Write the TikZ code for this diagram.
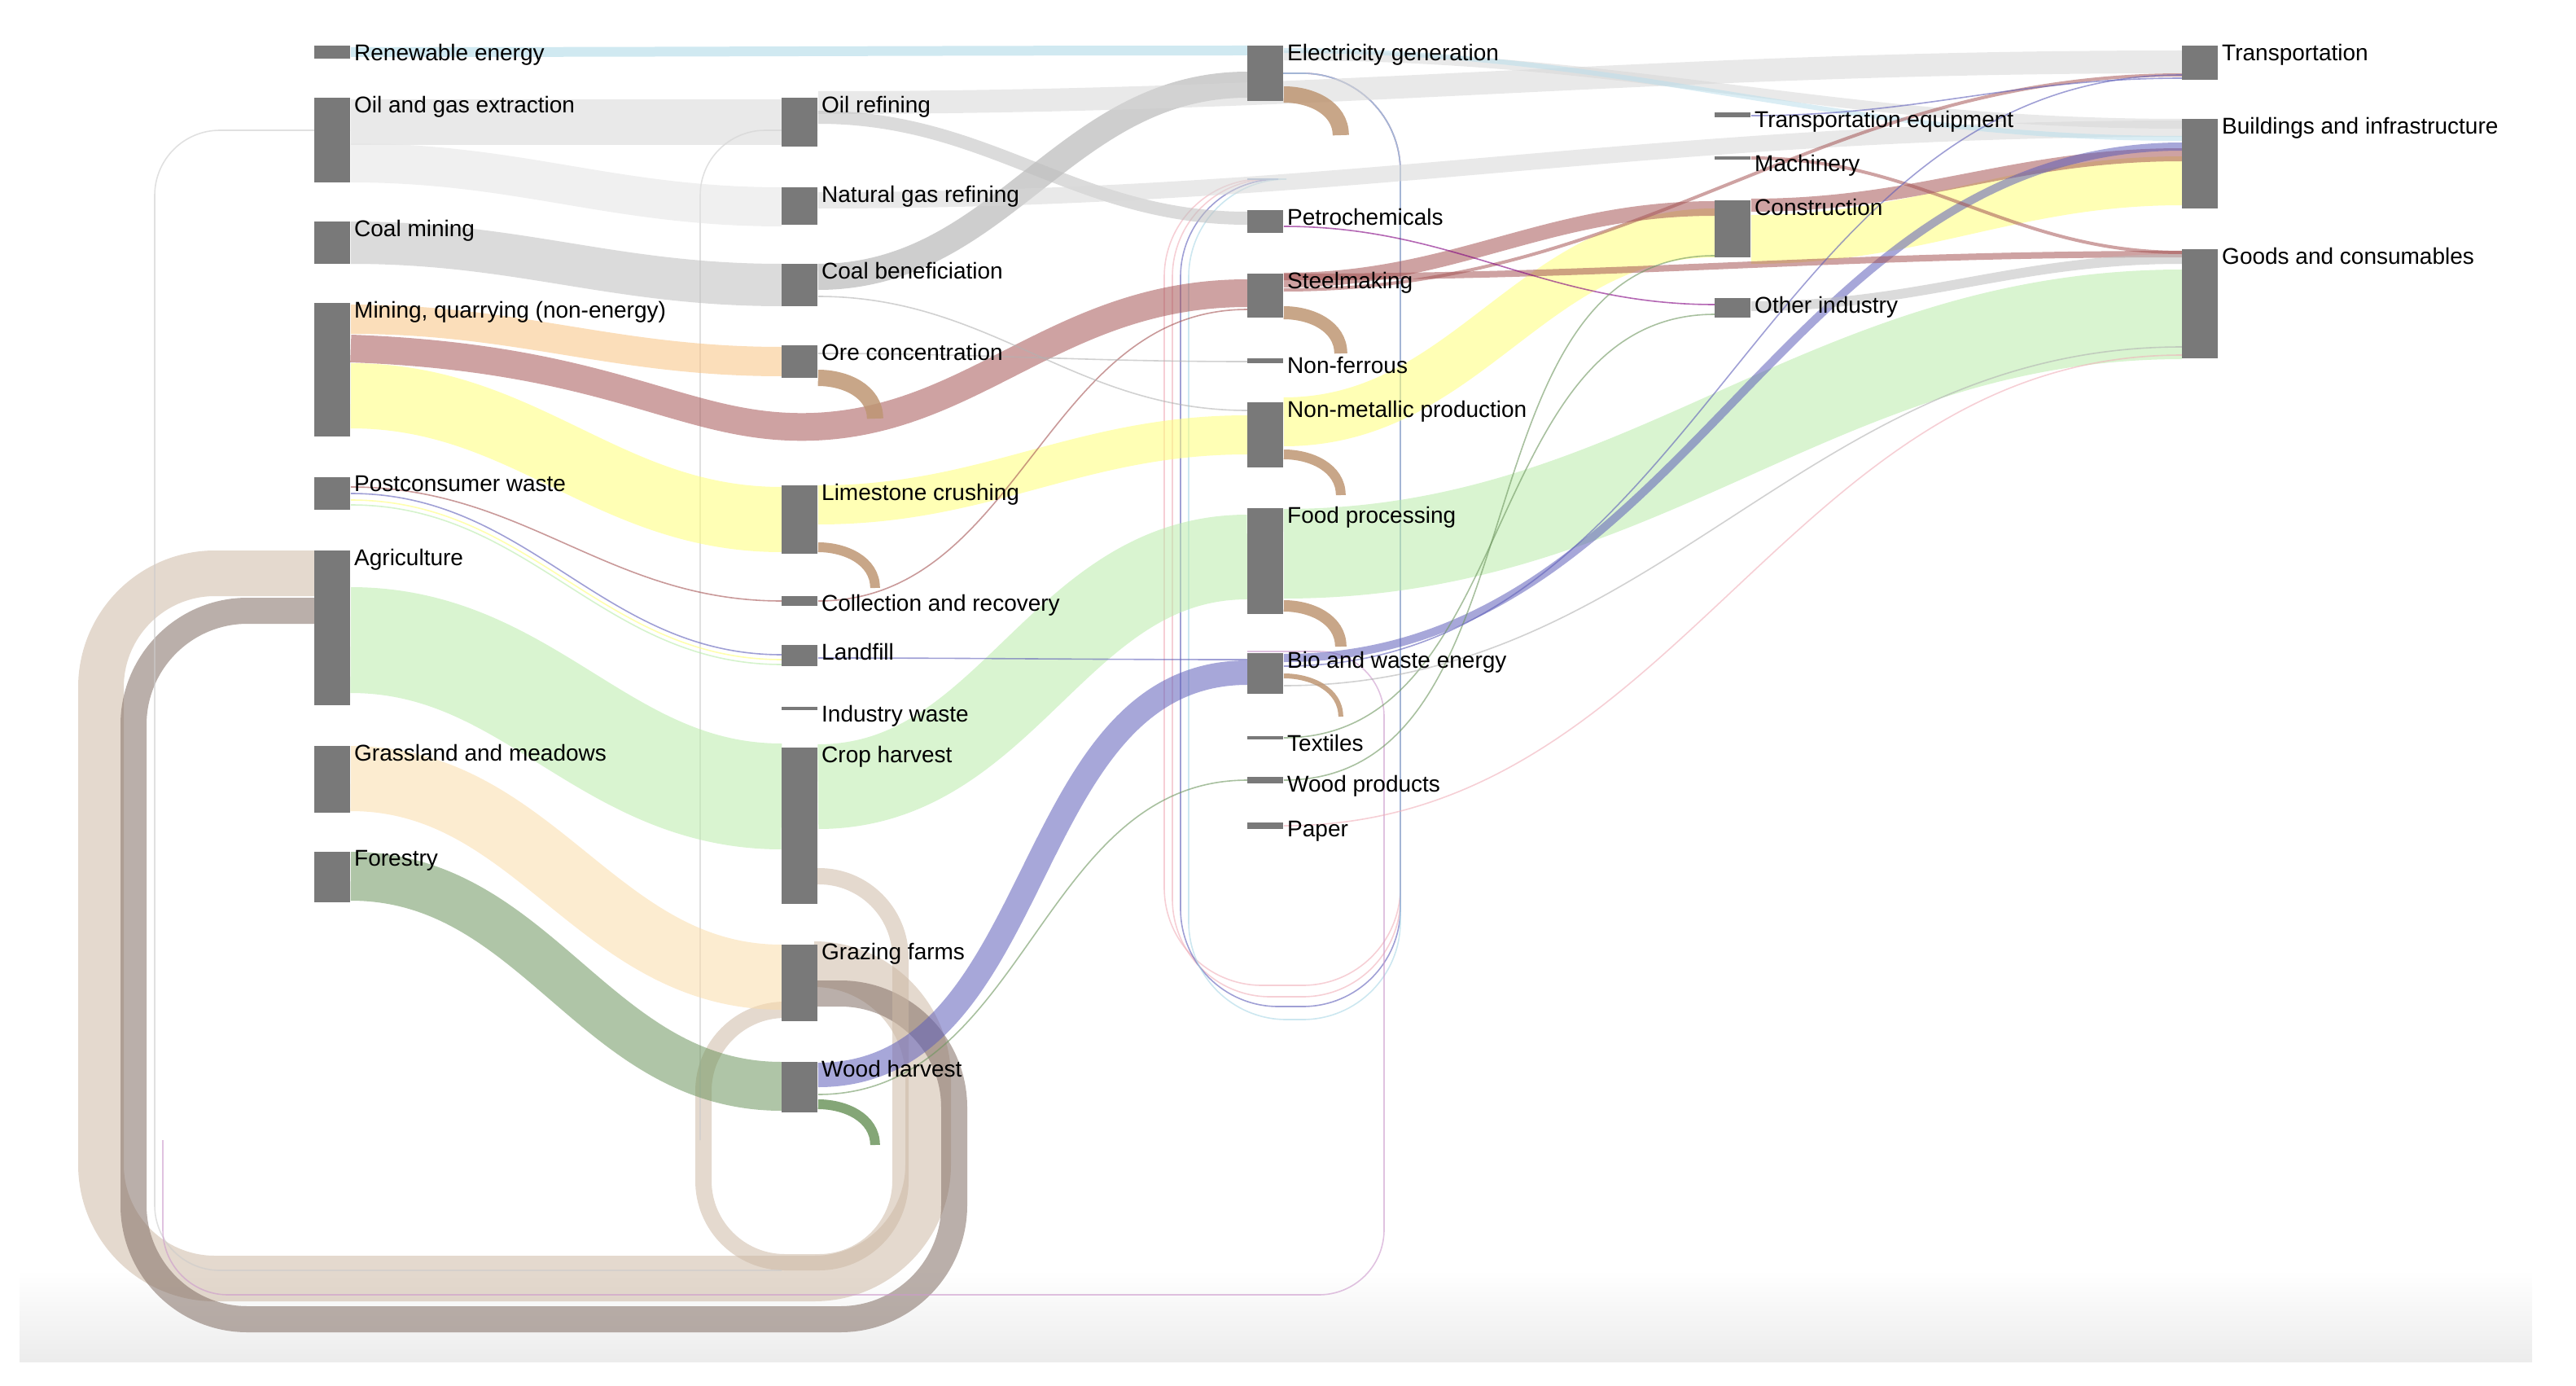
\documentclass[tikz,border=0pt]{standalone}
\usepackage{fontspec}
\setmainfont{Liberation Sans}
\usetikzlibrary{calc,backgrounds}
\definecolor{cgray}{RGB}{190,190,190}
\definecolor{clgray}{RGB}{215,215,215}
\definecolor{cblue}{RGB}{170,215,230}
\definecolor{ctan}{RGB}{205,185,165}
\definecolor{cbrown}{RGB}{130,110,100}
\definecolor{cred}{RGB}{165,85,85}
\definecolor{cyellow}{RGB}{255,255,120}
\definecolor{corange}{RGB}{248,195,130}
\definecolor{clorange}{RGB}{250,220,170}
\definecolor{cgreen}{RGB}{185,235,170}
\definecolor{cdgreen}{RGB}{110,150,95}
\definecolor{cpurple}{RGB}{95,95,185}
\definecolor{cpink}{RGB}{240,175,185}
\definecolor{chook}{RGB}{190,150,115}
\tikzset{
  bar/.style={fill=gray!95!black, inner sep=0pt, minimum width=22pt, anchor=north west},
  lbl/.style={font=\fontsize{14}{16}\selectfont, inner sep=1pt, anchor=north west, yshift=2pt, xshift=1pt},
  flowline/.style={opacity=0.55},
  thinline/.style={opacity=0.6, line width=0.8pt},
}
% bar node: name, x, top, bottom, text
\newcommand\barnode[5]{\node[bar, minimum height={(#4-#3)*1pt}] (#1) at (#2,#3) {};
  \node[lbl] (#1-l) at (#1.north east) {#5};}
% flow: colour, source, offset, target, offset, width
\newcommand\flow[6]{\draw[flowline,#1,line width=#6pt] ([yshift=-#3pt]#2.north east) to[out=0,in=180] ([yshift=-#5pt]#4.north west);}
\newcommand\thin[5]{\draw[thinline,#1] ([yshift=-#3pt]#2.north east) to[out=0,in=180] ([yshift=-#5pt]#4.north west);}
\begin{document}
\begin{tikzpicture}[x=1pt,y=-1pt]
\useasboundingbox (0,0) rectangle (1582,851);

% nodes
\barnode{renew}{193}{28}{36}{Renewable energy}
\barnode{oilgas}{193}{60}{112}{Oil and gas extraction}
\barnode{coal}{193}{136}{162}{Coal mining}
\barnode{mining}{193}{186}{268}{Mining, quarrying (non-energy)}
\barnode{postc}{193}{293}{313}{Postconsumer waste}
\barnode{agri}{193}{338}{433}{Agriculture}
\barnode{grass}{193}{458}{499}{Grassland and meadows}
\barnode{forest}{193}{523}{554}{Forestry}
\barnode{oilref}{480}{60}{90}{Oil refining}
\barnode{gasref}{480}{115}{138}{Natural gas refining}
\barnode{coalben}{480}{162}{188}{Coal beneficiation}
\barnode{ore}{480}{212}{232}{Ore concentration}
\barnode{lime}{480}{298}{340}{Limestone crushing}
\barnode{collect}{480}{366}{372}{Collection and recovery}
\barnode{landfill}{480}{396}{409}{Landfill}
\barnode{indwaste}{480}{434}{436}{Industry waste}
\barnode{crop}{480}{459}{555}{Crop harvest}
\barnode{grazing}{480}{580}{627}{Grazing farms}
\barnode{wood}{480}{652}{683}{Wood harvest}
\barnode{elec}{766}{28}{62}{Electricity generation}
\barnode{petro}{766}{129}{143}{Petrochemicals}
\barnode{steel}{766}{168}{195}{Steelmaking}
\barnode{nonfer}{766}{220}{223}{Non-ferrous}
\barnode{nonmet}{766}{247}{287}{Non-metallic production}
\barnode{food}{766}{312}{377}{Food processing}
\barnode{bio}{766}{401}{426}{Bio and waste energy}
\barnode{textile}{766}{452}{454}{Textiles}
\barnode{woodprod}{766}{477}{481}{Wood products}
\barnode{paper}{766}{505}{509}{Paper}
\barnode{transeq}{1053}{69}{72}{Transportation equipment}
\barnode{machine}{1053}{96}{98}{Machinery}
\barnode{constr}{1053}{123}{158}{Construction}
\barnode{otherind}{1053}{183}{195}{Other industry}
\barnode{transp}{1340}{28}{49}{Transportation}
\barnode{build}{1340}{73}{128}{Buildings and infrastructure}
\barnode{goods}{1340}{153}{220}{Goods and consumables}

\begin{pgfonlayer}{background}
\shade[top color=white, bottom color=gray!15] (12,780) rectangle (1555,836);
% loops behind
\draw[flowline,ctan,line width=28pt,rounded corners=70pt] (502,592) -- (570,592) -- (570,785) -- (62,785) -- (62,352) -- (193,352);
\draw[flowline,cbrown,line width=16pt,rounded corners=70pt] (502,610) -- (586,610) -- (586,810) -- (82,810) -- (82,375) -- (193,375);
\draw[flowline,ctan,line width=10pt,rounded corners=50pt] (502,538) -- (553,538) -- (553,775) -- (432,775) -- (432,620) -- (480,620);
\foreach \xx/\yy/\cc in {715/605/cpink,720/612/cpink,725/618/cpurple,730/626/cblue}
  \draw[thinline,\cc,rounded corners=60pt] (788,45) -- (860,45) -- (860,\yy) -- (\xx,\yy) -- (\xx,110) -- (766,110);
\draw[thinline,gray!40,rounded corners=40pt] (215,80) -- (95,80) -- (95,780) -- (480,780);
\draw[thinline,gray!40,rounded corners=40pt] (502,80) -- (430,80) -- (430,700);
\draw[thinline,violet!40,rounded corners=40pt] (766,400) -- (850,400) -- (850,795) -- (100,795) -- (100,700);

% flows
\flow{cblue}{renew}{4}{elec}{3}{6}
\flow{clgray}{oilgas}{15}{oilref}{15}{28}
\flow{clgray!70}{oilgas}{40}{gasref}{12}{24}
\flow{cgray}{coal}{13}{coalben}{13}{26}
\flow{gray!70}{coalben}{8}{elec}{24}{16}
\flow{corange}{mining}{10}{ore}{10}{18}
\draw[flowline,cred,line width=17pt] ([yshift=-28pt]mining.north east) .. controls (380,220) and (420,265) .. (500,262) .. controls (600,258) and (650,180) .. ([yshift=-12pt]steel.north west);
\flow{cyellow}{mining}{57}{lime}{21}{40}
\flow{cyellow}{lime}{12}{nonmet}{20}{24}
\flow{cyellow}{nonmet}{12}{constr}{20}{30}
\flow{cyellow}{constr}{24}{build}{38}{30}
\flow{cred}{steel}{4}{constr}{5}{9}
\flow{cred}{constr}{3}{build}{22}{8}
\flow{cgreen}{agri}{55}{crop}{30}{65}
\flow{cgreen}{crop}{24}{food}{30}{52}
\flow{cgreen}{food}{28}{goods}{40}{55}
\flow{clorange}{grass}{20}{grazing}{20}{40}
\flow{cdgreen}{forest}{15}{wood}{15}{30}
\flow{cpurple}{wood}{8}{bio}{12}{15}
\flow{cpurple}{bio}{3}{build}{17}{5}
\flow{clgray}{oilref}{3}{transp}{10}{14}
\flow{cgray}{oilref}{12}{petro}{5}{8}
\flow{clgray}{gasref}{8}{build}{6}{10}
\flow{clgray}{elec}{6}{build}{3}{6}
\flow{cblue!80}{elec}{3}{build}{12}{3}
\flow{cred}{steel}{2}{goods}{3}{4}
\flow{cgray}{otherind}{5}{goods}{6}{6}
\flow{cred}{machine}{1}{goods}{2}{2}
\flow{cred}{steel}{10}{transp}{18}{2}
\thin{violet}{petro}{10}{otherind}{4}
\thin{cdgreen}{wood}{20}{woodprod}{2}
\thin{cdgreen}{woodprod}{2}{constr}{34}
\thin{cdgreen}{textile}{1}{otherind}{10}
\thin{cred}{postc}{6}{collect}{3}
\thin{cpurple}{postc}{10}{landfill}{6}
\thin{cyellow}{postc}{14}{landfill}{9}
\thin{cgreen}{postc}{17}{landfill}{12}
\thin{cred}{collect}{3}{steel}{22}
\thin{cpurple}{landfill}{8}{bio}{4}
\thin{gray!60}{coalben}{20}{nonmet}{5}
\thin{gray!60}{ore}{5}{nonfer}{2}
\thin{cpurple}{transeq}{2}{transp}{20}
\thin{gray!60}{bio}{20}{goods}{60}
\thin{cpink}{paper}{2}{goods}{65}
\thin{cpurple}{bio}{8}{transp}{18}

% hooks
\foreach \nd/\yy/\cc/\ww in {ore/20/chook/10,lime/38/chook/6,elec/30/chook/10,steel/24/chook/8,nonmet/32/chook/6,food/60/chook/7,wood/26/cdgreen/6,bio/14/chook/3}
  \draw[\cc,line width=\ww pt,opacity=0.85] ([yshift=-\yy pt]\nd.north east) to[out=0,in=90] ++(35,25);
\end{pgfonlayer}
\end{tikzpicture}
\end{document}
